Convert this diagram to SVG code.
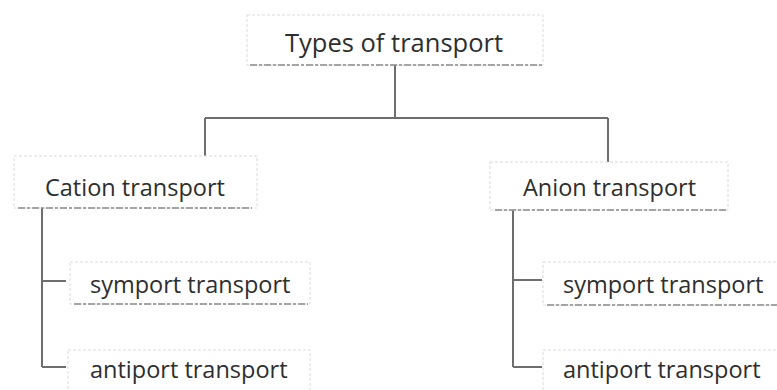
<svg xmlns="http://www.w3.org/2000/svg" width="777" height="390" viewBox="0 0 777 390">
<style>
.box{fill:#fff;stroke:#dadada;stroke-width:1;stroke-dasharray:3 2}
.bot{stroke:#8a8a8a;stroke-width:1.3;stroke-dasharray:7 2 3 2;fill:none}
.lbl{font-family:"Open Sans","Noto Sans",sans-serif;font-size:23.5px;fill:#2e2e2e}
.title{font-size:25.5px}
.con{stroke:#6e6e6e;stroke-width:2;fill:none}
</style>
<rect width="777" height="390" fill="#fff"/>
<g id="connectors">
<path class="con" d="M395,65 V118 M205,118 H608 M205,118 V160 M608,118 V163"/>
<path class="con" d="M42,208 V367 M42,281 H66 M42,367 H66"/>
<path class="con" d="M513,210 V367 M513,280 H542 M513,367 H542"/>
</g>
<g id="types">
<rect class="box" x="247" y="15" width="296" height="50"/>
<line class="bot" x1="250" y1="65" x2="543" y2="65"/>
<text class="lbl title" x="394" y="52" text-anchor="middle">Types of transport</text>
</g>
<g id="cation">
<rect class="box" x="14" y="156" width="243" height="52"/>
<line class="bot" x1="18" y1="208" x2="252" y2="208"/>
<text class="lbl" x="45" y="196">Cation transport</text>
</g>
<g id="anion">
<rect class="box" x="490" y="162" width="238" height="48"/>
<line class="bot" x1="495" y1="210" x2="726" y2="210"/>
<text class="lbl" x="523" y="196">Anion transport</text>
</g>
<g id="cation-symport">
<rect class="box" x="70" y="262" width="240" height="42"/>
<line class="bot" x1="74" y1="304" x2="308" y2="304"/>
<text class="lbl" x="90" y="293">symport transport</text>
</g>
<g id="cation-antiport">
<rect class="box" x="68" y="350" width="242" height="50"/>
<text class="lbl" x="90" y="378">antiport transport</text>
</g>
<g id="anion-symport">
<rect class="box" x="543" y="262" width="245" height="43"/>
<line class="bot" x1="547" y1="305" x2="777" y2="305"/>
<text class="lbl" x="563" y="293">symport transport</text>
</g>
<g id="anion-antiport">
<rect class="box" x="543" y="350" width="245" height="50"/>
<text class="lbl" x="563" y="378">antiport transport</text>
</g>
</svg>
